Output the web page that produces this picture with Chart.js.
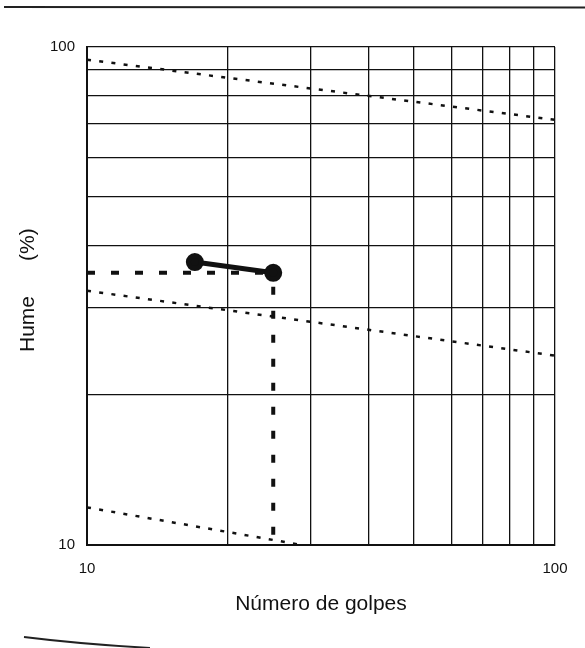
<!DOCTYPE html>
<html>
<head>
<meta charset="utf-8">
<script src="https://cdn.jsdelivr.net/npm/chart.js@4"></script>
<style>
  html, body { margin: 0; padding: 0; background: #fff; }
  canvas { display: block; }
</style>
</head>
<body>
<canvas id="limiteLiquido" width="585" height="648"></canvas>
<script>
// ensayo de Casagrande: golpes vs humedad
const golpes = [17, 25];
const humedad = [37.0, 35.2];

// lectura a 25 golpes
const golpesRef = 25;
const humedadRef = 35.2;

// curvas punteadas de referencia
const curvaSupX = [10, 100];
const curvaSupY = [94.3, 71.4];
const curvaMedX = [10, 100];
const curvaMedY = [32.4, 24.0];
const curvaInfX = [10, 28.8];
const curvaInfY = [11.9, 10];

// lineas de la cuadricula y etiquetas visibles
const divisiones = [10, 20, 30, 40, 50, 60, 70, 80, 90, 100];
const etiquetasEje = [10, 100];

const pts = (xs, ys) => xs.map((x, i) => ({ x: x, y: ys[i] }));

const tinta = '#111';

// lineas del borde de la hoja
const bordeHoja = {
    id: 'bordeHoja',
    afterDraw(chart) {
        const c = chart.ctx;
        c.save();
        c.strokeStyle = '#222';
        c.lineWidth = 2;
        c.beginPath();
        c.moveTo(4, 7);
        c.lineTo(585, 7.5);
        c.stroke();
        c.lineWidth = 1.8;
        c.beginPath();
        c.moveTo(24, 637);
        c.quadraticCurveTo(80, 644, 150, 648);
        c.stroke();
        c.restore();
    }
};

const soloDivisiones = function (scale) {
    scale.ticks = divisiones.map(v => ({ value: v, major: v === 10 || v === 100 }));
};

const tickCb = function (val) {
    return etiquetasEje.includes(Math.round(val)) ? String(Math.round(val)) : '';
};

const dotted = {
    showLine: true,
    borderColor: tinta,
    borderWidth: 2.5,
    borderDash: [4, 8.3],
    pointRadius: 0,
    fill: false
};

const config = {
    type: 'scatter',
    data: {
        datasets: [
            Object.assign({ data: pts(curvaSupX, curvaSupY) }, dotted),
            Object.assign({ data: pts(curvaMedX, curvaMedY) }, dotted),
            Object.assign({ data: pts(curvaInfX, curvaInfY) }, dotted),
            {
                // guia horizontal hasta el eje de humedad
                data: [{ x: 10, y: humedadRef }, { x: golpesRef, y: humedadRef }],
                showLine: true,
                borderColor: tinta,
                borderWidth: 4,
                borderDash: [8, 16],
                pointRadius: 0
            },
            {
                // guia vertical a 25 golpes
                data: [{ x: golpesRef, y: humedadRef }, { x: golpesRef, y: 10 }],
                showLine: true,
                borderColor: tinta,
                borderWidth: 4,
                borderDash: [8, 16],
                borderDashOffset: 10,
                pointRadius: 0
            },
            {
                data: pts(golpes, humedad),
                showLine: true,
                borderColor: tinta,
                borderWidth: 5,
                pointRadius: 6.5,
                pointBackgroundColor: tinta,
                pointBorderColor: tinta
            }
        ]
    },
    options: {
        responsive: false,
        animation: false,
        devicePixelRatio: 1,
        layout: { padding: { top: 47, right: 30, left: 0, bottom: 0 } },
        plugins: {
            legend: { display: false },
            tooltip: { enabled: false }
        },
        scales: {
            x: {
                type: 'logarithmic',
                min: 10,
                max: 100,
                afterBuildTicks: soloDivisiones,
                afterFit: function (scale) { scale.height = 103; },
                grid: { color: tinta, lineWidth: 1.3, drawTicks: false },
                border: { color: tinta, width: 2 },
                ticks: {
                    autoSkip: false,
                    maxRotation: 0,
                    padding: 15,
                    color: '#111',
                    font: { family: 'Liberation Sans, Arial', size: 15 },
                    callback: tickCb
                },
                title: {
                    display: true,
                    text: 'Número de golpes',
                    color: '#111',
                    font: { family: 'Liberation Sans, Arial', size: 21 },
                    padding: { top: 0, bottom: 31 }
                }
            },
            y: {
                type: 'logarithmic',
                min: 10,
                max: 100,
                afterBuildTicks: soloDivisiones,
                afterFit: function (scale) { scale.width = 87; },
                grid: { color: tinta, lineWidth: 1.3, drawTicks: false },
                border: { color: tinta, width: 2 },
                ticks: {
                    autoSkip: false,
                    padding: 12,
                    color: '#111',
                    font: { family: 'Liberation Sans, Arial', size: 15 },
                    callback: tickCb
                },
                title: {
                    display: true,
                    text: '  Hume      (%)',
                    color: '#111',
                    font: { family: 'Liberation Sans, Arial', size: 21 },
                    padding: { top: 16, bottom: 0 }
                }
            }
        }
    },
    plugins: [bordeHoja]
};

var grafico = new Chart(document.getElementById('limiteLiquido'), config);
</script>
</body>
</html>
